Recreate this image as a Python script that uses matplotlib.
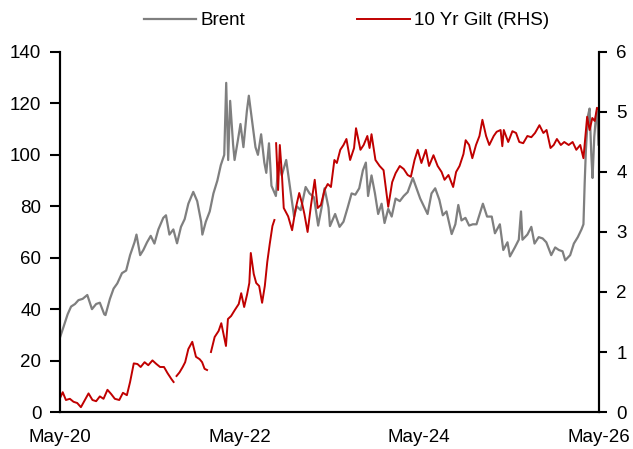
import numpy as np
import pandas as pd
import matplotlib
matplotlib.use('Agg')
import matplotlib.pyplot as plt
import matplotlib.dates as mdates

plt.rcParams['font.family'] = ['Liberation Sans', 'DejaVu Sans']

brent_dates = [
    "2020-05-01", "2020-05-15", "2020-06-01", "2020-06-15", "2020-07-01", "2020-07-15",
    "2020-08-01", "2020-08-20", "2020-09-08", "2020-09-25", "2020-10-10", "2020-10-28",
    "2020-11-02", "2020-11-20", "2020-12-05", "2020-12-20", "2021-01-08", "2021-01-25",
    "2021-02-10", "2021-02-28", "2021-03-08", "2021-03-23", "2021-04-05", "2021-04-20",
    "2021-05-05", "2021-05-20", "2021-06-05", "2021-06-25", "2021-07-06", "2021-07-20",
    "2021-08-05", "2021-08-20", "2021-09-05", "2021-09-20", "2021-10-05", "2021-10-25",
    "2021-11-10", "2021-11-26", "2021-12-01", "2021-12-15", "2021-12-31", "2022-01-15",
    "2022-01-31", "2022-02-14", "2022-02-28", "2022-03-08", "2022-03-16", "2022-03-24",
    "2022-04-05", "2022-04-11", "2022-04-25", "2022-05-05", "2022-05-17", "2022-05-31",
    "2022-06-08", "2022-06-20", "2022-07-05", "2022-07-15", "2022-07-28", "2022-08-10",
    "2022-08-18", "2022-08-29", "2022-09-08", "2022-09-26", "2022-10-07", "2022-10-20",
    "2022-11-07", "2022-11-20", "2022-12-09", "2022-12-20", "2023-01-05", "2023-01-25",
    "2023-02-10", "2023-02-28", "2023-03-17", "2023-03-31", "2023-04-12", "2023-04-28",
    "2023-05-04", "2023-05-25", "2023-06-12", "2023-06-28", "2023-07-15", "2023-07-31",
    "2023-08-15", "2023-08-31", "2023-09-15", "2023-09-27", "2023-10-06", "2023-10-20",
    "2023-11-03", "2023-11-16", "2023-11-30", "2023-12-12", "2023-12-27", "2024-01-10",
    "2024-01-26", "2024-02-12", "2024-02-28", "2024-03-15", "2024-04-05", "2024-04-20",
    "2024-05-05", "2024-06-04", "2024-06-20", "2024-07-05", "2024-07-22", "2024-08-05",
    "2024-08-20", "2024-09-10", "2024-09-25", "2024-10-07", "2024-10-20", "2024-11-05",
    "2024-11-20", "2024-12-05", "2024-12-20", "2025-01-15", "2025-02-01", "2025-02-20",
    "2025-03-05", "2025-03-25", "2025-04-08", "2025-04-25", "2025-05-05", "2025-05-25",
    "2025-06-10", "2025-06-19", "2025-06-25", "2025-07-15", "2025-07-31", "2025-08-13",
    "2025-08-30", "2025-09-15", "2025-09-30", "2025-10-20", "2025-11-05", "2025-11-20",
    "2025-12-05", "2025-12-16", "2026-01-05", "2026-01-20", "2026-02-05", "2026-02-20",
    "2026-02-28", "2026-03-05", "2026-03-10", "2026-03-18", "2026-03-25", "2026-04-01",
    "2026-04-06", "2026-04-13", "2026-04-20", "2026-04-25", "2026-04-30",
]
brent = [
    29, 33, 38, 41, 42, 43.5,
    44, 45.5, 40, 42, 42.5, 38,
    37.7, 44, 48, 50, 54, 55,
    61, 66, 69, 61, 63, 66,
    68.5, 65.5, 71, 75.5, 76.5, 69,
    71, 65.6, 72, 75, 81, 85.6,
    82, 74, 69, 74, 78, 85,
    90, 96, 100, 128, 98, 121,
    104, 98, 106, 112, 103, 117,
    123, 114, 103, 100, 108, 97,
    93, 104.5, 88, 84, 97, 92,
    98, 89, 76, 80, 78.5, 87.5,
    85, 83.5, 72.5, 79.5, 87, 79.5,
    72.3, 77, 72, 74, 79.5, 85,
    84.5, 87, 94, 97, 84, 92,
    85, 77, 81, 73.5, 79, 76,
    83, 82, 84, 85.5, 91, 87,
    83, 77, 85, 87, 82.5, 76.5,
    78, 69.2, 73, 80.5, 74.5, 75.5,
    72.5, 73, 73, 81, 76, 76,
    69.5, 73, 63, 66, 60.5, 64,
    67, 78, 67, 69, 72, 65.5,
    68, 67.5, 66, 61, 64, 63,
    62.5, 59, 61, 65.5, 68, 71,
    73, 89, 102, 115, 118, 100,
    91, 107, 115, 117, 104,
]

gilt_dates = [
    "2020-05-01", "2020-05-12", "2020-05-25", "2020-06-10", "2020-06-25", "2020-07-10",
    "2020-07-25", "2020-08-10", "2020-08-25", "2020-09-10", "2020-09-25", "2020-10-10",
    "2020-10-25", "2020-11-10", "2020-11-25", "2020-12-10", "2020-12-28", "2021-01-12",
    "2021-01-28", "2021-02-10", "2021-02-25", "2021-03-12", "2021-03-25", "2021-04-10",
    "2021-04-25", "2021-05-12", "2021-05-28", "2021-06-12", "2021-06-28", "2021-07-12",
    "2021-07-28", "2021-08-06", "2021-08-12", "2021-08-18", "2021-08-30", "2021-09-12",
    "2021-09-22", "2021-10-05", "2021-10-21", "2021-11-05", "2021-11-20", "2021-11-30",
    "2021-12-10", "2021-12-20", "2021-12-28", "2022-01-05", "2022-01-20", "2022-02-05",
    "2022-02-16", "2022-03-07", "2022-03-15", "2022-03-28", "2022-04-12", "2022-04-28",
    "2022-05-08", "2022-05-20", "2022-06-01", "2022-06-10", "2022-06-16", "2022-06-28",
    "2022-07-08", "2022-07-20", "2022-08-01", "2022-08-12", "2022-08-22", "2022-09-01",
    "2022-09-12", "2022-09-20", "2022-09-23", "2022-09-27", "2022-10-05", "2022-10-12",
    "2022-10-20", "2022-10-28", "2022-11-15", "2022-12-01", "2022-12-15", "2022-12-30",
    "2023-01-12", "2023-01-20", "2023-02-02", "2023-02-16", "2023-03-03", "2023-03-15",
    "2023-03-28", "2023-04-12", "2023-04-25", "2023-05-08", "2023-05-22", "2023-06-01",
    "2023-06-15", "2023-06-28", "2023-07-10", "2023-07-25", "2023-08-10", "2023-08-18",
    "2023-09-05", "2023-09-18", "2023-10-03", "2023-10-12", "2023-10-20", "2023-11-05",
    "2023-11-22", "2023-12-08", "2023-12-27", "2024-01-12", "2024-01-26", "2024-02-12",
    "2024-02-28", "2024-03-15", "2024-03-28", "2024-04-12", "2024-04-25", "2024-05-10",
    "2024-05-28", "2024-06-10", "2024-06-28", "2024-07-15", "2024-07-31", "2024-08-12",
    "2024-08-28", "2024-09-16", "2024-09-28", "2024-10-12", "2024-10-28", "2024-11-06",
    "2024-11-20", "2024-12-03", "2024-12-18", "2025-01-01", "2025-01-13", "2025-01-28",
    "2025-02-10", "2025-02-28", "2025-03-12", "2025-03-28", "2025-04-04", "2025-04-10",
    "2025-04-28", "2025-05-15", "2025-05-30", "2025-06-12", "2025-06-28", "2025-07-15",
    "2025-07-31", "2025-08-15", "2025-09-02", "2025-09-18", "2025-10-01", "2025-10-17",
    "2025-10-30", "2025-11-12", "2025-11-28", "2025-12-12", "2025-12-30", "2026-01-15",
    "2026-01-30", "2026-02-15", "2026-02-28", "2026-03-08", "2026-03-15", "2026-03-25",
    "2026-04-05", "2026-04-15", "2026-04-24", "2026-04-30",
]
gilt = [
    0.23, 0.33, 0.2, 0.22, 0.17, 0.15,
    0.08, 0.2, 0.31, 0.2, 0.18, 0.26,
    0.22, 0.37, 0.3, 0.22, 0.2, 0.32,
    0.28, 0.5, 0.81, 0.8, 0.75, 0.83,
    0.78, 0.86, 0.8, 0.75, 0.75, 0.65,
    0.55, 0.5, np.nan, 0.6, 0.66, 0.75,
    0.83, 1.05, 1.17, 0.92, 0.88, 0.83,
    0.72, 0.7, np.nan, 1.0, 1.25, 1.35,
    1.48, 1.1, 1.55, 1.6, 1.7, 1.8,
    1.98, 1.75, 1.96, 2.15, 2.65, 2.3,
    2.15, 2.1, 1.82, 2.1, 2.5, 2.8,
    3.1, 3.2, np.nan, 4.48, 3.7, 4.45,
    4.0, 3.4, 3.26, 3.03, 3.38, 3.65,
    3.45, 3.3, 3.0, 3.45, 3.87, 3.4,
    3.45, 3.7, 3.8, 3.75, 4.2, 4.15,
    4.37, 4.45, 4.55, 4.2, 4.4, 4.73,
    4.37, 4.45, 4.6, 4.4, 4.63, 4.2,
    4.1, 4.03, 3.42, 3.83, 3.98, 4.1,
    4.05, 3.95, 3.92, 4.2, 4.37, 4.15,
    4.37, 4.1, 4.28, 4.1, 4.0, 3.87,
    3.95, 3.75, 4.0, 4.1, 4.3, 4.53,
    4.45, 4.23, 4.45, 4.6, 4.87, 4.6,
    4.45, 4.6, 4.67, 4.7, 4.43, 4.7,
    4.5, 4.68, 4.65, 4.5, 4.48, 4.6,
    4.58, 4.65, 4.78, 4.65, 4.7, 4.4,
    4.45, 4.55, 4.45, 4.5, 4.45, 4.5,
    4.37, 4.45, 4.23, 4.6, 4.92, 4.7,
    4.9, 4.85, 5.07, 5.05,
]

x_ticks = ["2020-05-01", "2022-05-01", "2024-05-01", "2026-05-01"]
left_ticks = [0, 20, 40, 60, 80, 100, 120, 140]
right_ticks = [0, 1, 2, 3, 4, 5, 6]

fs = 13.5
fig = plt.figure(figsize=(6.33, 4.49), dpi=100)
ax = fig.add_axes([0.0948, 0.0824, 0.851, 0.8018])
ax2 = ax.twinx()

l1, = ax.plot(pd.to_datetime(brent_dates), brent, color='#7f7f7f', lw=1.6, label='Brent')
l2, = ax2.plot(pd.to_datetime(gilt_dates), gilt, color='#c00000', lw=1.4, label='10 Yr Gilt (RHS)')

ax.set_xlim(pd.Timestamp("2020-05-01"), pd.Timestamp("2026-05-01"))
ax.set_ylim(0, 140)
ax2.set_ylim(0, 6)
ax.set_yticks(left_ticks)
ax2.set_yticks(right_ticks)
ax.set_xticks(pd.to_datetime(x_ticks))
ax.xaxis.set_major_formatter(mdates.DateFormatter('%b-%y'))

for a in (ax, ax2):
    a.spines['top'].set_visible(False)
    for s in ('left', 'right', 'bottom'):
        a.spines[s].set_linewidth(1.5)
        a.spines[s].set_color('black')
ax.tick_params(axis='y', length=7.5, width=1.5, labelsize=fs, pad=6)
ax2.tick_params(axis='y', length=5.8, width=1.5, labelsize=fs, pad=7)
ax.tick_params(axis='x', length=0, labelsize=fs, pad=12)

fig.legend(handles=[l1, l2], loc='center', bbox_to_anchor=(0.547, 0.954), ncol=2,
           frameon=False, fontsize=fs, handlelength=2.8, handletextpad=0.2,
           columnspacing=6.0, borderpad=0)

fig.savefig('out.png', dpi=100)
